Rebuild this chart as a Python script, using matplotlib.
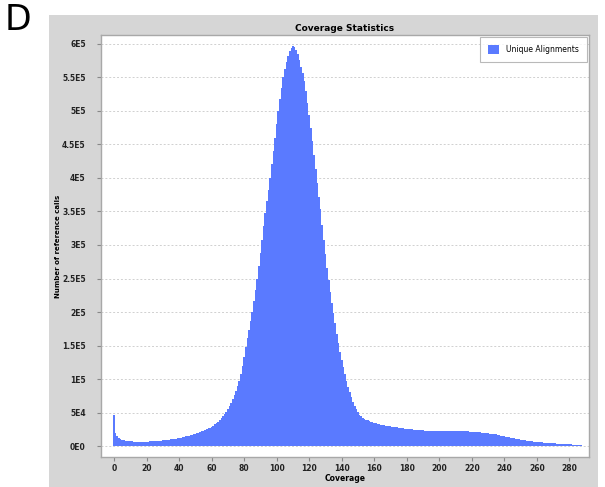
import matplotlib.pyplot as plt
from matplotlib.patches import Rectangle

# --- DATA ---------------------------------------------------------------
# number of reference calls (in thousands) per coverage value 0..287
calls_k = [
    47, 20, 15, 12, 10.5, 9.5, 9.0, 8.5, 8.0, 7.8,
    7.5, 7.3, 7.1, 7.0, 6.9, 6.8, 6.8, 6.8, 6.9, 7.0,
    7.0, 7.1, 7.2, 7.4, 7.5, 7.7, 7.9, 8.1, 8.3, 8.5,
    8.8, 9.0, 9.3, 9.6, 9.9, 10.2, 10.6, 11.0, 11.4, 11.9,
    12.4, 13.0, 13.5, 14.0, 14.6, 15.2, 15.8, 16.5, 17.2, 18.0,
    18.8, 19.6, 20.5, 21.4, 22.3, 23.3, 24.3, 25.4, 26.5, 27.8,
    29.2, 30.8, 32.6, 34.6, 36.8, 39.2, 41.9, 44.8, 48.0, 51.5,
    55.5, 60, 65, 70.5, 76.5, 83, 90, 98, 108, 120,
    133, 148, 161, 174, 187, 200, 216, 233, 250, 269,
    288, 308, 328, 348, 365, 382, 400, 420, 440, 460,
    480, 500, 517, 534, 550, 562, 573, 582, 589, 594,
    596, 595, 591, 584, 576, 566, 556, 545, 530, 512,
    494, 474, 455, 434, 413, 392, 372, 354, 330, 307,
    286, 266, 248, 230, 214, 199, 183, 168, 154, 141,
    129, 118, 107, 98, 89, 81, 73, 66, 60, 55,
    50.5, 47, 44.5, 42.5, 41, 39.8, 38.7, 37.6, 36.6, 35.7,
    34.9, 34.2, 33.5, 32.9, 32.3, 31.7, 31.2, 30.7, 30.3, 29.9,
    29.5, 29.1, 28.7, 28.3, 28.0, 27.6, 27.3, 27.0, 26.7, 26.4,
    26.1, 25.8, 25.5, 25.2, 24.9, 24.6, 24.4, 24.1, 23.9, 23.7,
    23.5, 23.3, 23.2, 23.0, 22.9, 22.8, 22.7, 22.6, 22.6, 22.5,
    22.5, 22.5, 22.6, 22.6, 22.7, 22.8, 22.8, 22.9, 23.0, 23.0,
    23.0, 23.0, 23.0, 22.9, 22.8, 22.7, 22.5, 22.3, 22.1, 21.9,
    21.7, 21.8, 21.6, 21.3, 21.0, 20.8, 20.5, 20.2, 19.9, 19.6,
    19.3, 19.0, 18.7, 18.4, 18.0, 17.6, 17.1, 16.6, 16.0, 15.5,
    14.9, 14.3, 13.7, 13.1, 12.6, 12.1, 11.6, 11.1, 10.6, 10.1,
    9.7, 9.3, 9.0, 8.6, 8.3, 8.0, 7.7, 7.4, 7.1, 6.8,
    6.5, 6.2, 6.0, 5.8, 5.6, 5.4, 5.2, 5.0, 4.8, 4.6,
    4.4, 4.2, 4.0, 3.9, 3.7, 3.6, 3.4, 3.3, 3.1, 3.0,
    2.8, 2.7, 2.5, 2.4, 2.2, 2.1, 2.0, 1.9,
]
coverage = list(range(len(calls_k)))
calls = [v * 1000 for v in calls_k]

y_ticks = [0, 50000, 100000, 150000, 200000, 250000, 300000,
           350000, 400000, 450000, 500000, 550000, 600000]
y_labels = ["0E0", "5E4", "1E5", "1.5E5", "2E5", "2.5E5", "3E5",
            "3.5E5", "4E5", "4.5E5", "5E5", "5.5E5", "6E5"]
x_ticks = list(range(0, 281, 20))
series_name = "Unique Alignments"
# -----------------------------------------------------------------------

W, H = 605, 487
fig = plt.figure(figsize=(W / 100, H / 100), dpi=100)

# grey chart panel behind the plot
fig.patches.append(Rectangle((49 / W, 0), (598 - 49) / W, 1 - 15 / H,
                             transform=fig.transFigure, facecolor="#d6d6d6",
                             edgecolor="none", zorder=-1))

ax = fig.add_axes([101 / W, 1 - 457 / H, (589 - 101) / W, (457 - 35) / H])
ax.set_facecolor("white")

ax.bar(coverage, calls, width=1.0, color="#5a7aff", edgecolor="none",
       linewidth=0, label=series_name, zorder=2)

ax.set_xlim(-8, 292)
ax.set_ylim(-16000, 613000)
ax.set_yticks(y_ticks)
ax.set_yticklabels(y_labels)
ax.set_xticks(x_ticks)

ax.yaxis.grid(True, linestyle=(0, (2, 2)), color="#d0d0d0", linewidth=0.7, zorder=0)
ax.set_axisbelow(True)

for s in ax.spines.values():
    s.set_color("#a8a8a8")
    s.set_linewidth(1.0)

ax.tick_params(axis="both", direction="out", length=3, color="#888888",
               labelsize=5.5, labelcolor="#222222")
ax.tick_params(axis="y", pad=8)
ax.tick_params(axis="x", pad=2)
for lab in ax.get_xticklabels() + ax.get_yticklabels():
    lab.set_fontweight("bold")

ax.set_title("Coverage Statistics", fontsize=6.5, fontweight="bold", pad=3)
ax.set_xlabel("Coverage", fontsize=5.5, fontweight="bold", labelpad=1)
ax.set_ylabel("Number of reference calls", fontsize=5, fontweight="bold", labelpad=1)

leg = ax.legend(loc="upper right", fontsize=5.5, frameon=True, fancybox=False,
                borderpad=1.0, handlelength=1.4, handleheight=1.4,
                handletextpad=1.0, borderaxespad=0.3)
leg.get_frame().set_edgecolor("#a8a8a8")
leg.get_frame().set_linewidth(0.8)

fig.text(5 / W, 1 - 30 / H, "D", fontsize=25, ha="left", va="baseline")

fig.savefig("out.png", dpi=100)
